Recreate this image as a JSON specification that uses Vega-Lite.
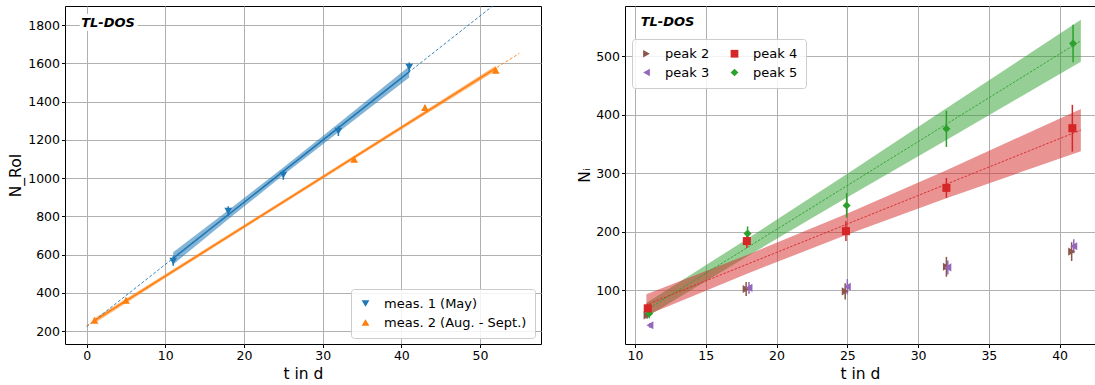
{
  "$schema": "https://vega.github.io/schema/vega-lite/v6.json",
  "padding": {"left": 8, "top": 5, "right": 0, "bottom": 0},
  "spacing": 35,
  "resolve": {"scale": {"color": "independent", "shape": "independent"}},
  "config": {
    "font": "DejaVu Sans",
    "view": {"stroke": "black", "strokeWidth": 1},
    "axis": {"grid": true, "gridColor": "#b0b0b0", "gridWidth": 1, "domain": false, "tickColor": "black", "tickSize": 3.5, "tickWidth": 1, "labelFontSize": 12.5, "labelColor": "black", "labelPadding": 2, "titleFontSize": 15.5, "titleFontWeight": "normal", "titleColor": "black", "format": "d"},
    "axisX": {"titlePadding": 4},
    "legend": {"fillColor": "rgba(255,255,255,0.85)", "strokeColor": "#cccccc", "cornerRadius": 3, "padding": 8, "labelFontSize": 13, "labelColor": "black", "symbolSize": 60, "rowPadding": 5, "labelOffset": 12, "symbolStrokeWidth": 0}
  },
  "datasets": {
    "lband": [
      {"series": "meas. 1 (May)", "t": 11, "lo": 548.5, "hi": 612.5},
      {"series": "meas. 1 (May)", "t": 18, "lo": 784, "hi": 832},
      {"series": "meas. 1 (May)", "t": 25, "lo": 1015.5, "hi": 1055.5},
      {"series": "meas. 1 (May)", "t": 32, "lo": 1240, "hi": 1286},
      {"series": "meas. 1 (May)", "t": 41, "lo": 1526.5, "hi": 1584.5},
      {"series": "meas. 2 (Aug. - Sept.)", "t": 1, "lo": 240.9, "hi": 266.9},
      {"series": "meas. 2 (Aug. - Sept.)", "t": 10, "lo": 477, "hi": 497},
      {"series": "meas. 2 (Aug. - Sept.)", "t": 26, "lo": 892.4, "hi": 910.4},
      {"series": "meas. 2 (Aug. - Sept.)", "t": 40, "lo": 1254, "hi": 1274},
      {"series": "meas. 2 (Aug. - Sept.)", "t": 52, "lo": 1561.8, "hi": 1587.8}
    ],
    "lfit": [
      {"series": "meas. 1 (May)", "part": "ext", "t": 0, "N": 223},
      {"series": "meas. 1 (May)", "part": "ext", "t": 55, "N": 2010.5},
      {"series": "meas. 2 (Aug. - Sept.)", "part": "ext", "t": 0, "N": 228},
      {"series": "meas. 2 (Aug. - Sept.)", "part": "ext", "t": 55, "N": 1652.5},
      {"series": "meas. 1 (May)", "part": "solid", "t": 11, "N": 580.5},
      {"series": "meas. 1 (May)", "part": "solid", "t": 41, "N": 1555.5},
      {"series": "meas. 2 (Aug. - Sept.)", "part": "solid", "t": 1, "N": 253.9},
      {"series": "meas. 2 (Aug. - Sept.)", "part": "solid", "t": 52, "N": 1574.8}
    ],
    "lpts": [
      {"series": "meas. 1 (May)", "t": 11, "N": 566, "lo": 541, "hi": 591},
      {"series": "meas. 1 (May)", "t": 18, "N": 827, "lo": 802, "hi": 852},
      {"series": "meas. 1 (May)", "t": 25, "N": 1016, "lo": 991, "hi": 1041},
      {"series": "meas. 1 (May)", "t": 32, "N": 1246, "lo": 1220, "hi": 1272},
      {"series": "meas. 1 (May)", "t": 41, "N": 1580, "lo": 1555, "hi": 1605},
      {"series": "meas. 2 (Aug. - Sept.)", "t": 1, "N": 256, "lo": 241, "hi": 271},
      {"series": "meas. 2 (Aug. - Sept.)", "t": 5, "N": 360, "lo": 345, "hi": 375},
      {"series": "meas. 2 (Aug. - Sept.)", "t": 34, "N": 1098, "lo": 1083, "hi": 1113},
      {"series": "meas. 2 (Aug. - Sept.)", "t": 43, "N": 1368, "lo": 1353, "hi": 1383},
      {"series": "meas. 2 (Aug. - Sept.)", "t": 52, "N": 1563, "lo": 1548, "hi": 1578}
    ],
    "rband": [
      {"series": "peak 5", "t": 10.8, "lo": 54, "hi": 78},
      {"series": "peak 5", "t": 18, "lo": 159, "hi": 189},
      {"series": "peak 5", "t": 25, "lo": 259, "hi": 299},
      {"series": "peak 5", "t": 32, "lo": 357, "hi": 411},
      {"series": "peak 5", "t": 41.5, "lo": 490.5, "hi": 562.5},
      {"series": "peak 4", "t": 10.8, "lo": 57.1, "hi": 93.1},
      {"series": "peak 4", "t": 18, "lo": 129.1, "hi": 161.1},
      {"series": "peak 4", "t": 25, "lo": 195.2, "hi": 231.2},
      {"series": "peak 4", "t": 32, "lo": 257.3, "hi": 305.3},
      {"series": "peak 4", "t": 41.5, "lo": 337.8, "hi": 409.8}
    ],
    "rfit": [
      {"series": "peak 5", "t": 11, "N": 69},
      {"series": "peak 5", "t": 41.5, "N": 526.5},
      {"series": "peak 4", "t": 11, "N": 77},
      {"series": "peak 4", "t": 41.5, "N": 373.8}
    ],
    "rpts": [
      {"series": "peak 2", "t": 10.85, "N": 57, "lo": 51, "hi": 63},
      {"series": "peak 2", "t": 17.85, "N": 102, "lo": 90, "hi": 114},
      {"series": "peak 2", "t": 24.85, "N": 98, "lo": 84, "hi": 112},
      {"series": "peak 2", "t": 32, "N": 140, "lo": 123, "hi": 157},
      {"series": "peak 2", "t": 40.85, "N": 166, "lo": 150, "hi": 182},
      {"series": "peak 3", "t": 11.05, "N": 40, "lo": 36, "hi": 44},
      {"series": "peak 3", "t": 18.05, "N": 104, "lo": 94, "hi": 114},
      {"series": "peak 3", "t": 25, "N": 106, "lo": 93, "hi": 119},
      {"series": "peak 3", "t": 32.1, "N": 139, "lo": 127, "hi": 151},
      {"series": "peak 3", "t": 41, "N": 175, "lo": 163, "hi": 187},
      {"series": "peak 5", "t": 11, "N": 60, "lo": 52, "hi": 68},
      {"series": "peak 5", "t": 17.95, "N": 197, "lo": 185, "hi": 209},
      {"series": "peak 5", "t": 24.95, "N": 245, "lo": 224, "hi": 266},
      {"series": "peak 5", "t": 32, "N": 376, "lo": 345, "hi": 407},
      {"series": "peak 5", "t": 40.95, "N": 522, "lo": 490, "hi": 554},
      {"series": "peak 4", "t": 10.9, "N": 69, "lo": 61, "hi": 77},
      {"series": "peak 4", "t": 17.9, "N": 184, "lo": 172, "hi": 196},
      {"series": "peak 4", "t": 24.9, "N": 201, "lo": 184, "hi": 218},
      {"series": "peak 4", "t": 32, "N": 275, "lo": 258, "hi": 292},
      {"series": "peak 4", "t": 40.9, "N": 377, "lo": 337, "hi": 417}
    ],
    "llabel": [{"t": -0.7, "N": 1810, "label": "TL-DOS"}],
    "rlabel": [{"t": 10.4, "N": 559, "label": "TL-DOS"}]
  },
  "hconcat": [
    {
      "width": 476,
      "height": 338,
      "encoding": {
        "x": {"field": "t", "type": "quantitative", "scale": {"domain": [-2.75, 57.75], "nice": false, "zero": false}, "axis": {"values": [0, 10, 20, 30, 40, 50], "title": "t in d"}},
        "y": {"field": "N", "type": "quantitative", "scale": {"domain": [132, 1900], "nice": false, "zero": false}, "axis": {"values": [200, 400, 600, 800, 1000, 1200, 1400, 1600, 1800], "title": "N_RoI", "titlePadding": 4}}
      },
      "layer": [
        {
          "data": {"name": "lband"},
          "mark": {"type": "area", "opacity": 0.55},
          "encoding": {
            "y": {"field": "lo", "type": "quantitative"},
            "y2": {"field": "hi"},
            "fill": {"field": "series", "type": "nominal", "scale": {"domain": ["meas. 1 (May)", "meas. 2 (Aug. - Sept.)", "peak 2", "peak 4", "peak 3", "peak 5"], "range": ["#1f77b4", "#ff7f0e", "#8c564b", "#d62728", "#9467bd", "#2ca02c"]}, "legend": null},
            "detail": {"field": "series"}
          }
        },
        {
          "data": {"name": "lfit"},
          "transform": [{"filter": "datum.part == 'ext'"}],
          "mark": {"type": "line", "strokeWidth": 0.9, "strokeDash": [3, 2], "clip": true},
          "encoding": {
            "stroke": {"field": "series", "type": "nominal", "scale": {"domain": ["meas. 1 (May)", "meas. 2 (Aug. - Sept.)", "peak 2", "peak 4", "peak 3", "peak 5"], "range": ["#1f77b4", "#ff7f0e", "#8c564b", "#d62728", "#9467bd", "#2ca02c"]}, "legend": null}
          }
        },
        {
          "data": {"name": "lfit"},
          "transform": [{"filter": "datum.part == 'solid'"}],
          "mark": {"type": "line", "strokeWidth": 1.5},
          "encoding": {
            "stroke": {"field": "series", "type": "nominal", "legend": null}
          }
        },
        {
          "data": {"name": "lpts"},
          "mark": {"type": "rule", "strokeWidth": 1.5},
          "encoding": {
            "y": {"field": "lo", "type": "quantitative"},
            "y2": {"field": "hi"},
            "stroke": {"field": "series", "type": "nominal", "legend": null}
          }
        },
        {
          "data": {"name": "lpts"},
          "mark": {"type": "point", "filled": true, "opacity": 1, "size": 60},
          "encoding": {
            "color": {"field": "series", "type": "nominal", "scale": {"domain": ["meas. 1 (May)", "meas. 2 (Aug. - Sept.)"], "range": ["#1f77b4", "#ff7f0e"]}, "legend": {"title": null, "orient": "bottom-right", "offset": 6}},
            "shape": {"field": "series", "type": "nominal", "scale": {"domain": ["meas. 1 (May)", "meas. 2 (Aug. - Sept.)"], "range": ["triangle-down", "triangle-up"]}, "legend": {"title": null, "orient": "bottom-right", "offset": 6}}
          }
        },
        {
          "data": {"name": "llabel"},
          "mark": {"type": "text", "align": "left", "baseline": "middle", "fontSize": 13, "fontWeight": "bold", "fontStyle": "italic", "stroke": "white", "strokeWidth": 8, "fill": "white"},
          "encoding": {"text": {"field": "label"}}
        },
        {
          "data": {"name": "llabel"},
          "mark": {"type": "text", "align": "left", "baseline": "middle", "fontSize": 13, "fontWeight": "bold", "fontStyle": "italic", "fill": "black"},
          "encoding": {"text": {"field": "label"}}
        }
      ]
    },
    {
      "width": 470,
      "height": 338,
      "encoding": {
        "x": {"field": "t", "type": "quantitative", "scale": {"domain": [9.29, 42.5], "nice": false, "zero": false}, "axis": {"values": [10, 15, 20, 25, 30, 35, 40], "title": "t in d"}},
        "y": {"field": "N", "type": "quantitative", "scale": {"domain": [8, 586], "nice": false, "zero": false}, "axis": {"values": [100, 200, 300, 400, 500], "title": "Nᵢ", "titlePadding": 3}}
      },
      "layer": [
        {
          "data": {"name": "rband"},
          "mark": {"type": "area", "opacity": 0.5},
          "encoding": {
            "y": {"field": "lo", "type": "quantitative"},
            "y2": {"field": "hi"},
            "fill": {"field": "series", "type": "nominal", "legend": null},
            "detail": {"field": "series"}
          }
        },
        {
          "data": {"name": "rfit"},
          "mark": {"type": "line", "strokeWidth": 0.9, "strokeDash": [2.5, 1.5]},
          "encoding": {
            "stroke": {"field": "series", "type": "nominal", "legend": null}
          }
        },
        {
          "data": {"name": "rpts"},
          "mark": {"type": "rule", "strokeWidth": 1.5},
          "encoding": {
            "y": {"field": "lo", "type": "quantitative"},
            "y2": {"field": "hi"},
            "stroke": {"field": "series", "type": "nominal", "legend": null}
          }
        },
        {
          "data": {"name": "rpts"},
          "mark": {"type": "point", "filled": true, "opacity": 1, "size": 65},
          "encoding": {
            "color": {"field": "series", "type": "nominal", "scale": {"domain": ["peak 2", "peak 3", "peak 4", "peak 5"], "range": ["#8c564b", "#9467bd", "#d62728", "#2ca02c"]}, "legend": {"title": null, "orient": "none", "legendX": 7, "legendY": 33, "columns": 2, "columnPadding": 18}},
            "shape": {"field": "series", "type": "nominal", "scale": {"domain": ["peak 2", "peak 3", "peak 4", "peak 5"], "range": ["triangle-right", "triangle-left", "square", "diamond"]}, "legend": {"title": null, "orient": "none", "legendX": 7, "legendY": 33, "columns": 2, "columnPadding": 18}}
          }
        },
        {
          "data": {"name": "rlabel"},
          "mark": {"type": "text", "align": "left", "baseline": "middle", "fontSize": 13, "fontWeight": "bold", "fontStyle": "italic", "stroke": "white", "strokeWidth": 8, "fill": "white"},
          "encoding": {"text": {"field": "label"}}
        },
        {
          "data": {"name": "rlabel"},
          "mark": {"type": "text", "align": "left", "baseline": "middle", "fontSize": 13, "fontWeight": "bold", "fontStyle": "italic", "fill": "black"},
          "encoding": {"text": {"field": "label"}}
        }
      ]
    }
  ]
}
